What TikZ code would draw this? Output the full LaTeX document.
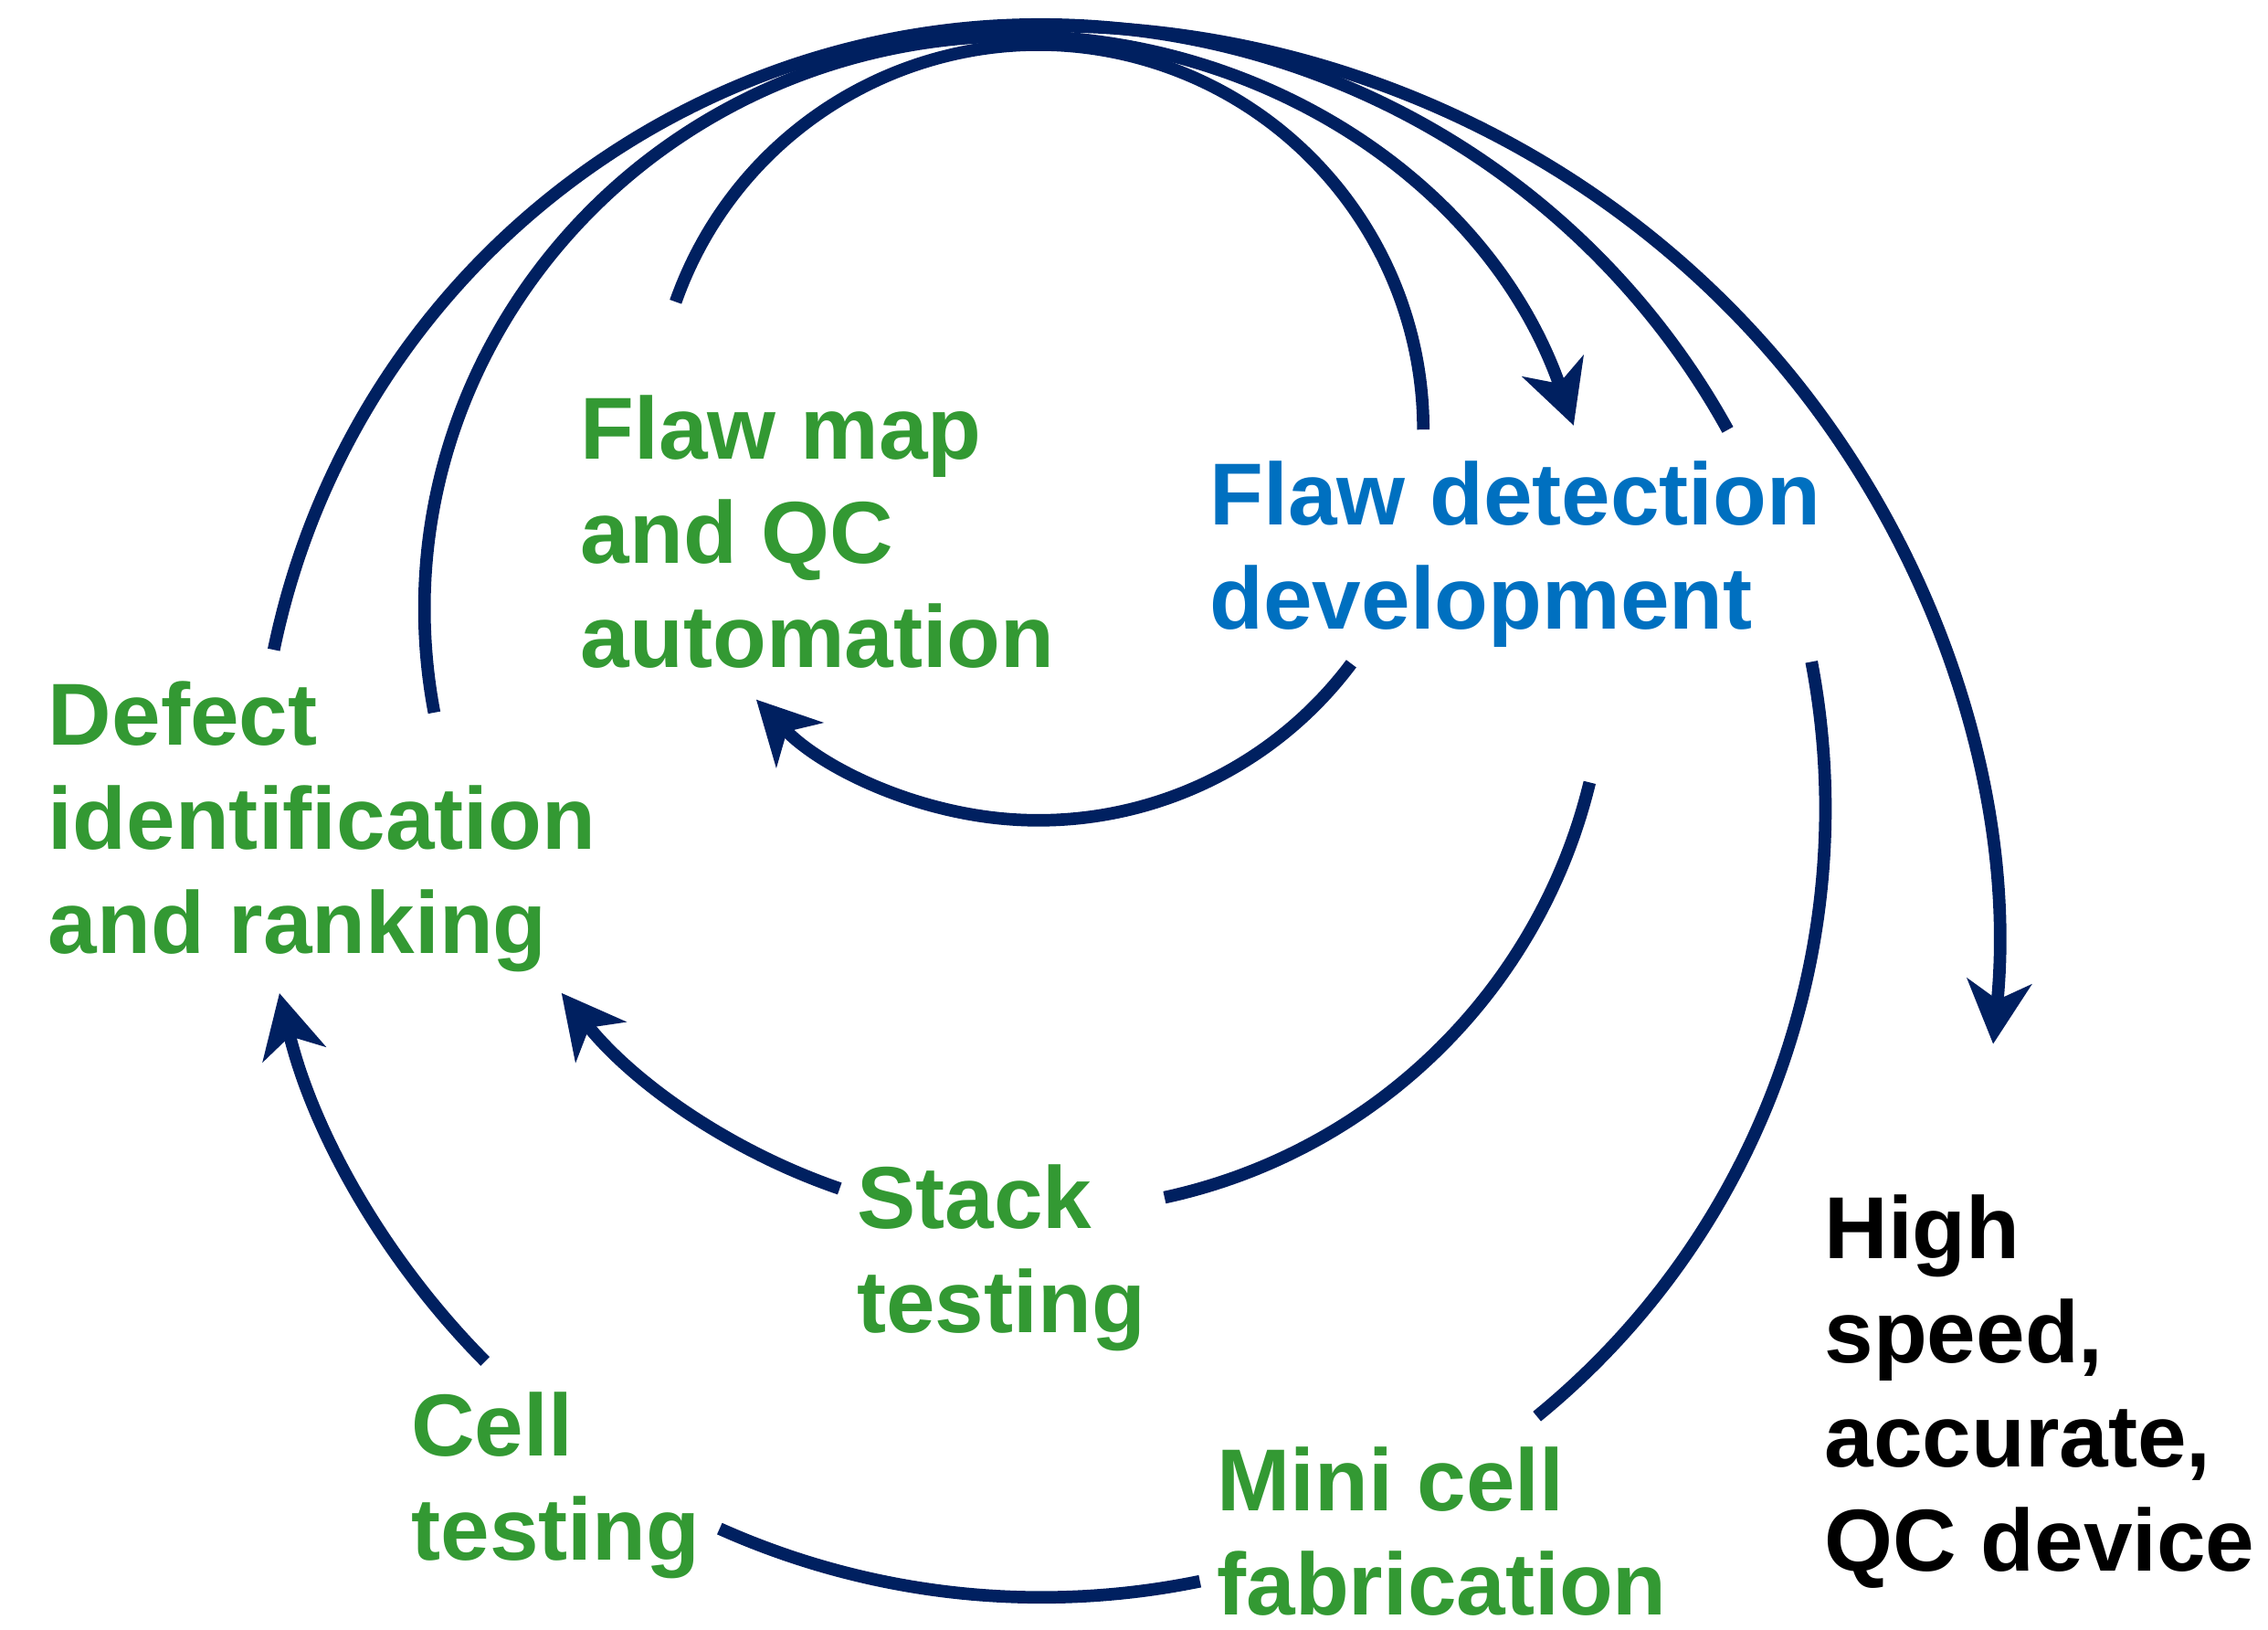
\documentclass[tikz,border=0pt]{standalone}
\usepackage{fontspec}
\setmainfont{Liberation Sans}
\usetikzlibrary{arrows.meta}
\definecolor{navy}{HTML}{002060}
\definecolor{lgreen}{HTML}{339933}
\definecolor{fblue}{HTML}{0070C0}
\def\px{0.45056pt}
\begin{document}
\begin{tikzpicture}[x=0.45056pt,y=0.45056pt,
  lbl/.style={font=\fontsize{27.4}{32.5}\selectfont\bfseries, align=left, inner sep=0pt, anchor=base west},
  conn/.style={draw=navy, line width=3.9pt},
  arr/.style={conn, -{Stealth[length=19.5pt,width=20pt,inset=5.7pt]}}]
\useasboundingbox (0,0) rectangle (1568,1126);

% labels (anchored at the baseline of their last line)
\node[lbl, text=lgreen] (fm) at (401,664.6) {Flaw map\\and QC\\automation};
\node[lbl, text=fblue]  (fd) at (836,691.3) {Flaw detection\\development};
\node[lbl, text=lgreen] (di) at (33,466.9) {Defect\\identification\\and ranking};
\node[lbl, text=lgreen] (st) at (592,204.8) {Stack\\testing};
\node[lbl, text=lgreen] (ct) at (284,47.8) {Cell\\testing};
\node[lbl, text=lgreen] (mc) at (841,9.8) {Mini cell\\fabrication};
\node[lbl, text=black]  (hs) at (1261,40) {High\\speed,\\accurate,\\QC device};

% connector start points
\coordinate (c1s) at (467.1,917.4);
\coordinate (c2s) at (934.2,667.3);
\coordinate (c3s) at (300.2,633.5);
\coordinate (c4s) at (189.3,676.9);
\coordinate (c5s) at (1252.4,668.6);
\coordinate (c6s) at (1099,585.2);
\coordinate (c7s) at (580.5,304.5);
\coordinate (c8s) at (335.4,185.1);
\coordinate (c9s) at (829.6,33.1);
\coordinate (r4s) at (650.3,1103.7);

% inner loop: flaw map <-> flaw detection
\draw[conn] (c1s) arc[start angle=160.6, end angle=0, radius={266*\px}];
\draw[arr]  (c2s) arc[start angle=-36.8, end angle=-136.3, radius={270*\px}];
% defect -> flaw detection
\draw[arr]  (c3s) arc[start angle=-169.6, end angle=-341.3, x radius={408*\px}, y radius={396*\px}];
% defect -> flaw detection (outer)
\draw[conn] (c4s) arc[start angle=168.3, end angle=28.9, radius={542*\px}];
% to high speed QC device
\draw[arr]  (r4s) arc[start angle=96.6, end angle=-5.5, x radius={655.4*\px}, y radius={642*\px}];
% flaw detection -> mini cell
\draw[conn] (c5s) arc[start angle=10.8, end angle=-50.8, radius={542*\px}];
% flaw detection -> stack testing
\draw[conn] (c6s) arc[start angle=-13.6, end angle=-77.8, radius={386.4*\px}];
% stack testing -> defect
\draw[arr]  (c7s) arc[start angle=-108.9, end angle=-141.3, radius={421.3*\px}];
% cell testing -> defect
\draw[arr]  (c8s) arc[start angle=-135.2, end angle=-166.4, radius={542*\px}];
% mini cell -> cell testing
\draw[conn] (c9s) arc[start angle=-78.4, end angle=-114.1, radius={545*\px}];
\end{tikzpicture}
\end{document}
